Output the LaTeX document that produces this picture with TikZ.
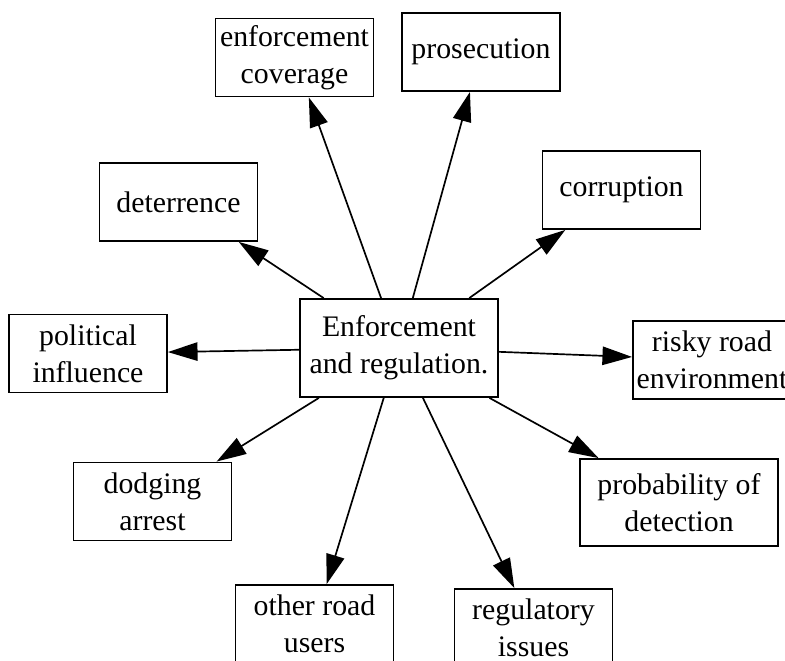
\documentclass[tikz,border=0pt]{standalone}
\usepackage{fontspec}
\setmainfont{Liberation Serif}
\usetikzlibrary{arrows.meta}

\begin{document}
\begin{tikzpicture}[x=0.025cm,y=-0.025cm,
  box/.style={draw,line width=1.3pt,minimum width=3.95cm,minimum height=1.95cm,inner sep=0pt,align=center,font=\fontsize{21.2}{26.4}\selectfont},
  widebox/.style={box,minimum width=4.95cm},
  link/.style={line width=1.2pt,-{Triangle[length=0.74cm,width=0.46cm]}}]
  \useasboundingbox (0,0) rectangle (785,661);
  % hub in the middle
  \node[widebox,minimum height=2.45cm] (hub) at (399,348) {Enforcement\\ and regulation.};
  % factors round it
  \node[box] (cover) at (294.5,57.5) {enforcement\\ coverage};
  \node[box] (prosec) at (481,52) {prosecution};
  \node[box] (deter) at (178.5,202) {deterrence};
  \node[box] (corrupt) at (621.5,190) {corruption};
  \node[box] (polit) at (88,353.5) {political\\ influence};
  \node[box] (risky) at (712,360) {risky road\\ environment};
  \node[box] (dodge) at (152.5,501.5) {dodging\\ arrest};
  \node[widebox,minimum height=2.175cm] (detect) at (679,502.5) {probability of\\ detection};
  \node[box] (others) at (314.5,624) {other road\\ users};
  \node[box] (regul) at (533.5,628) {regulatory\\ issues};
  % links
  \draw[link] (hub) -- (cover); \draw[link] (hub) -- (prosec);
  \draw[link] (hub) -- (deter); \draw[link] (hub) -- (corrupt);
  \draw[link] (hub) -- (polit); \draw[link] (hub) -- (risky);
  \draw[link] (hub) -- (dodge); \draw[link] (hub) -- (detect);
  \draw[link] (hub) -- (others); \draw[link] (hub) -- (regul);
\end{tikzpicture}
\end{document}
